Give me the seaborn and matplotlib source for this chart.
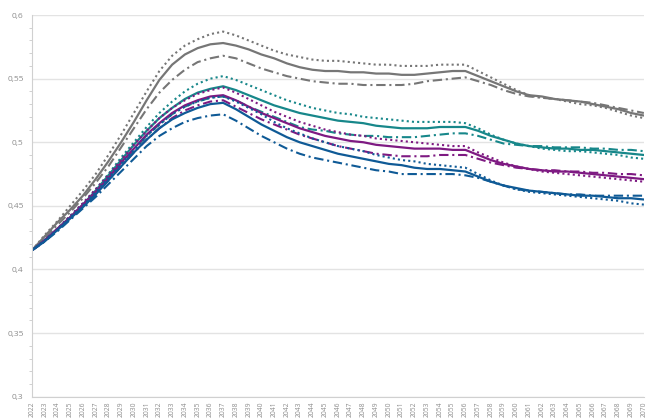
import pandas as pd
import seaborn as sns
from matplotlib import pyplot as plt
from matplotlib.ticker import MultipleLocator, FuncFormatter

years = list(range(2022, 2071))

gray_solid = [.415, .426, .437, .447, .458, .471, .485, .500, .516, .533, .549, .561, .569, .574, .577, .578,
              .576, .573, .569, .566, .562, .559, .557, .556, .556, .555, .555, .554, .554, .553, .553, .554,
              .555, .556, .556, .552, .548, .544, .540, .537, .536, .534, .533, .532, .530, .528, .526, .523, .521]
gray_dot = [.415, .427, .438, .450, .462, .475, .490, .506, .523, .540, .556, .568, .576, .581, .585, .587,
            .584, .580, .576, .572, .569, .567, .565, .564, .564, .563, .562, .561, .561, .560, .560, .560,
            .561, .561, .561, .556, .551, .546, .541, .537, .535, .534, .532, .530, .529, .527, .524, .521, .519]
gray_dash = [.415, .425, .435, .445, .456, .468, .481, .496, .511, .526, .539, .549, .557, .563, .566, .568,
             .566, .562, .558, .555, .552, .550, .548, .547, .546, .546, .545, .545, .545, .545, .546, .548,
             .549, .550, .551, .548, .545, .541, .538, .536, .535, .534, .533, .532, .531, .529, .527, .525, .523]

teal_solid = [.415, .423, .432, .441, .451, .462, .474, .486, .498, .509, .519, .527, .534, .539, .542, .544,
              .541, .537, .533, .529, .526, .523, .521, .519, .517, .516, .515, .513, .512, .511, .511, .511,
              .512, .512, .512, .509, .505, .502, .499, .497, .496, .495, .495, .494, .494, .493, .492, .491, .490]
teal_dot = [.415, .423, .432, .442, .452, .463, .475, .488, .500, .512, .523, .532, .540, .546, .550, .552,
            .549, .545, .541, .537, .533, .530, .527, .525, .523, .522, .520, .519, .518, .517, .516, .516,
            .516, .516, .515, .511, .506, .502, .499, .497, .495, .494, .493, .493, .492, .491, .490, .488, .487]
teal_dash = [.415, .423, .431, .440, .450, .460, .471, .483, .494, .505, .514, .522, .528, .532, .535, .536,
             .533, .528, .524, .520, .516, .512, .510, .509, .507, .506, .505, .505, .504, .504, .504, .505,
             .506, .507, .507, .505, .502, .499, .498, .497, .497, .496, .496, .496, .495, .495, .494, .494, .493]

purple_solid = [.415, .423, .432, .441, .451, .461, .472, .484, .495, .506, .515, .523, .529, .533, .536, .537,
                .533, .528, .523, .519, .515, .511, .508, .505, .503, .501, .500, .498, .497, .496, .495, .495,
                .495, .494, .494, .490, .486, .483, .481, .479, .478, .477, .477, .476, .475, .474, .473, .472, .471]
purple_dot = [.415, .423, .432, .442, .452, .463, .474, .486, .498, .509, .519, .527, .533, .538, .541, .543,
              .539, .534, .529, .524, .520, .516, .513, .510, .508, .506, .505, .503, .502, .501, .500, .499,
              .498, .497, .497, .492, .488, .484, .481, .479, .477, .476, .475, .474, .473, .472, .471, .470, .469]
purple_dash = [.415, .422, .431, .440, .449, .459, .470, .481, .492, .502, .511, .519, .525, .529, .532, .533,
               .528, .523, .518, .514, .510, .506, .503, .500, .497, .495, .493, .491, .490, .489, .489, .489,
               .490, .490, .490, .487, .484, .482, .480, .479, .478, .478, .477, .477, .476, .476, .475, .475, .474]

navy_solid = [.415, .422, .431, .440, .449, .459, .470, .481, .492, .502, .511, .518, .523, .527, .530, .531,
              .526, .520, .514, .509, .504, .500, .497, .494, .491, .489, .487, .485, .483, .482, .480, .479,
              .479, .478, .477, .473, .469, .466, .464, .462, .461, .460, .459, .458, .458, .457, .456, .456, .455]
navy_dot = [.415, .423, .431, .441, .450, .461, .472, .483, .494, .505, .514, .522, .528, .532, .535, .536,
            .532, .527, .522, .516, .511, .507, .503, .500, .497, .495, .493, .490, .488, .486, .485, .483,
            .482, .481, .480, .475, .470, .466, .463, .461, .460, .459, .458, .457, .456, .455, .454, .452, .451]
navy_dash = [.415, .422, .430, .439, .448, .457, .467, .477, .487, .497, .505, .511, .516, .519, .521, .522,
             .517, .511, .505, .500, .495, .491, .488, .486, .484, .482, .480, .478, .477, .475, .475, .475,
             .475, .475, .474, .472, .469, .466, .463, .462, .461, .460, .459, .459, .458, .458, .458, .458, .458]

GRAY = "#767676"
TEAL = "#17878A"
PURPLE = "#7E1A82"
NAVY = "#0F5A96"

dotted = (0, (1, 1.5))
dashdot = (0, (4.5, 1.8, 1, 1.8))

series = [
    (gray_dot, GRAY, dotted), (gray_solid, GRAY, "-"), (gray_dash, GRAY, dashdot),
    (teal_dot, TEAL, dotted), (teal_solid, TEAL, "-"), (teal_dash, TEAL, dashdot),
    (purple_dot, PURPLE, dotted), (purple_solid, PURPLE, "-"), (purple_dash, PURPLE, dashdot),
    (navy_dot, NAVY, dotted), (navy_solid, NAVY, "-"), (navy_dash, NAVY, dashdot),
]

sns.set_style("white")
plt.rcParams['font.family'] = ['Open Sans', 'DejaVu Sans']

fig, ax = plt.subplots(figsize=(6.51, 4.18), dpi=100)
fig.subplots_adjust(left=0.049, right=0.989, bottom=0.051, top=0.964)

widths = {"-": 1.6}
for vals, col, ls in series:
    df = pd.DataFrame({"Year": years, "Value": vals})
    sns.lineplot(data=df, x="Year", y="Value", ax=ax, color=col,
                 linewidth=widths.get(ls, 1.5), linestyle=ls)

ax.set_xlim(2022, 2070)
ax.set_ylim(0.3, 0.6)
ax.set_xlabel("")
ax.set_ylabel("")

ax.set_xticks(years)
ax.set_xticklabels([str(y) for y in years], rotation=90, fontsize=4.9, color="#8C8C8C")
ax.yaxis.set_major_locator(MultipleLocator(0.05))
ax.yaxis.set_minor_locator(MultipleLocator(0.01))
ax.yaxis.set_major_formatter(FuncFormatter(lambda v, p: "{:g}".format(round(v, 2)).replace(".", ",")))
ax.tick_params(axis="y", labelsize=6, colors="#8C8C8C", length=3, width=0.6, pad=3)
ax.tick_params(axis="y", which="minor", length=2, width=0.5, color="#BFBFBF", left=True)
ax.tick_params(axis="x", length=2.5, width=0.6, color="#BFBFBF", pad=1)
ax.tick_params(axis="y", which="major", color="#BFBFBF")

ax.grid(axis="y", color="#E3E3E3", linewidth=1)
ax.grid(axis="x", visible=False)
for s in ["top", "right"]:
    ax.spines[s].set_visible(False)
for s in ["left", "bottom"]:
    ax.spines[s].set_color("#D0D0D0")
    ax.spines[s].set_linewidth(0.8)

plt.savefig("out.png", dpi=100)
